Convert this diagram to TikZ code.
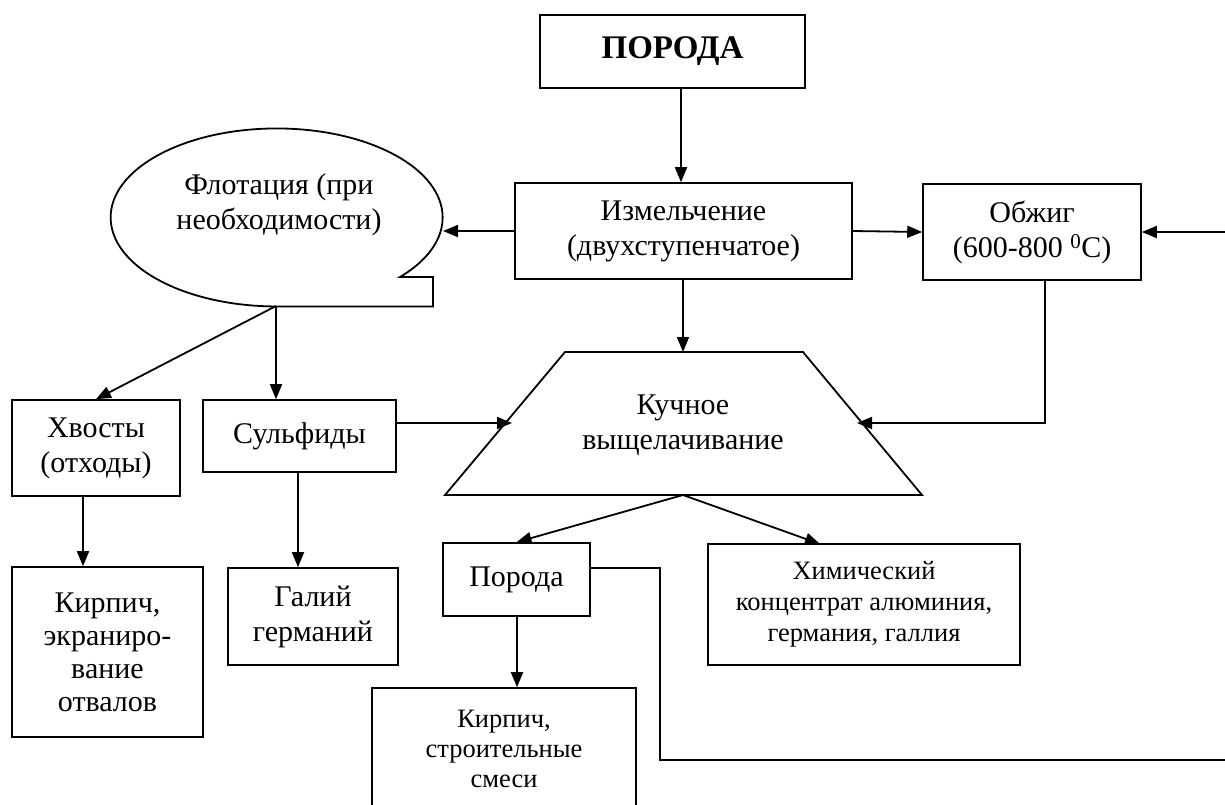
\documentclass[tikz,border=0pt]{standalone}
\usepackage{fontspec}
\setmainfont{Liberation Serif}
\usetikzlibrary{arrows.meta}
\tikzset{
  box/.style={draw, line width=1.6pt, inner sep=0pt, align=center, font=\fontsize{30}{35}\selectfont},
  txt/.style={inner sep=0pt, align=center, font=\fontsize{30}{35}\selectfont},
  ln/.style={line width=1.8pt},
  arr/.style={line width=1.8pt, -{Triangle[length=15pt,width=12pt]}}
}
\begin{document}
\begin{tikzpicture}[x=1pt,y=-1pt]
\clip (0,0) rectangle (1225,804);
% boxes
\node[box, minimum width=265pt, minimum height=73pt, font=\fontsize{33}{38}\selectfont\bfseries] (poroda) at (672.5,51.5) {ПОРОДА};
\node[box, minimum width=337pt, minimum height=96pt] (izm) at (683.5,231) {Измельчение\\(двухступенчатое)};
\node[box, minimum width=218pt, minimum height=96pt] (obzh) at (1032,232) {Обжиг\\(600-800 \textsuperscript{0}C)};
\node[box, minimum width=168pt, minimum height=96pt] (xv) at (96,448) {Хвосты\\(отходы)};
\node[box, minimum width=193pt, minimum height=72pt] (sulf) at (299.5,436) {Сульфиды};
\node[box, minimum width=191pt, minimum height=170pt, font=\fontsize{30}{33}\selectfont] (kirp1) at (107.5,652) {Кирпич,\\экраниро-\\вание\\отвалов};
\node[box, minimum width=170pt, minimum height=97pt] (gal) at (313,616.5) {Галий\\германий};
\node[box, minimum width=147pt, minimum height=73pt] (por2) at (516.5,579.5) {Порода};
\node[box, minimum width=312pt, minimum height=121pt, font=\fontsize{26.5}{31}\selectfont] (chem) at (864,604.5) {Химический\\концентрат алюминия,\\германия, галлия};
\node[box, minimum width=264pt, minimum height=122pt, font=\fontsize{26.5}{30}\selectfont] (kirp2) at (504,749) {Кирпич,\\строительные\\смеси};
% flotation callout
\draw[ln] (400,277) arc[start angle=42, end angle=-270, x radius=166, y radius=89] -- (433,306.4) -- (433,277) -- cycle;
\node[txt] (flot) at (279,205) {Флотация (при\\необходимости)};
% trapezoid
\draw[ln] (565,352) -- (803,352) -- (922,495) -- (445,495) -- cycle;
\node[txt] (kuch) at (683,425) {Кучное\\выщелачивание};
% coordinates
\coordinate (flotR) at (443,231);
\coordinate (flotB) at (276,306);
\coordinate (tTop) at (683,352);
\coordinate (tB) at (683,495);
\coordinate (tL) at (512,423);
\coordinate (tR) at (857,423);
\coordinate (rin) at (1225,232);
\coordinate (cA) at (681,0);
\coordinate (cC) at (1045,423);
\coordinate (cD) at (276,0);
\coordinate (cE) at (83,0);
\coordinate (cF) at (298,0);
\coordinate (cG) at (517,568);
\coordinate (cH) at (660,568);
\coordinate (cI) at (660,760);
\coordinate (cJ) at (1225,760);
\coordinate (chTop) at (820,544);
% connectors
\draw[arr] (poroda.south -| cA) -- (izm.north -| cA);
\draw[arr] (izm.west) -- (flotR);
\draw[arr] (izm.east) -- (obzh.west);
\draw[arr] (rin) -- (obzh.east);
\draw[arr] (izm.south -| tTop) -- (tTop);
\draw[arr] (obzh.south -| cC) -- (cC) -- (tR);
\draw[arr] (sulf.east |- tL) -- (tL);
\draw[arr] (flotB) -- (xv.north);
\draw[arr] (flotB) -- (sulf.north -| cD);
\draw[arr] (xv.south -| cE) -- (kirp1.north -| cE);
\draw[arr] (sulf.south -| cF) -- (gal.north -| cF);
\draw[arr] (tB) -- (por2.north);
\draw[arr] (tB) -- (chTop);
\draw[arr] (por2.south -| cG) -- (kirp2.north -| cG);
\draw[ln] (por2.east |- cG) -- (cH) -- (cI) -- (cJ);
\end{tikzpicture}
\end{document}
